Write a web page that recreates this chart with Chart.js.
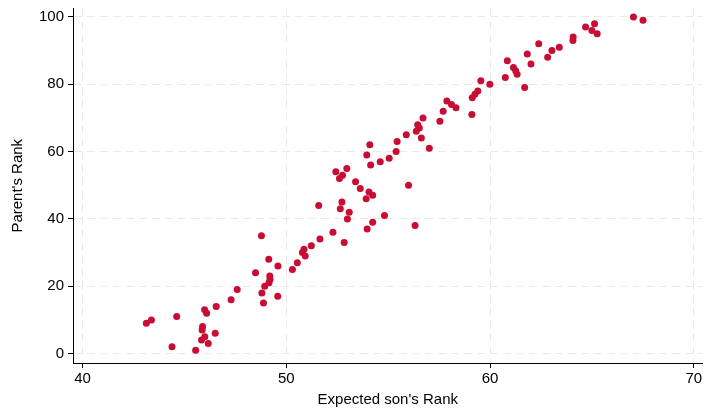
<!DOCTYPE html>
<html>
<head>
<meta charset="utf-8">
<script src="https://cdn.jsdelivr.net/npm/chart.js@4/dist/chart.umd.min.js"></script>
<style>
  html, body { margin: 0; padding: 0; background: #fff; }
  #wrap { width: 706px; height: 414px; }
</style>
</head>
<body>
<div id="wrap"><canvas id="chart" width="706" height="414"></canvas></div>
<script>
// ─── DATA ──────────────────────────────────────────────────
// parent's rank 1..100 and the expected son's rank
const parentRank = [
  1, 2, 3, 4, 5, 6, 7, 8, 9, 10,
  11, 12, 13, 14, 15, 16, 17, 18, 19, 20,
  21, 22, 23, 24, 25, 26, 27, 28, 29, 30,
  31, 32, 33, 34, 35, 36, 37, 38, 39, 40,
  41, 42, 43, 44, 45, 46, 47, 48, 49, 50,
  51, 52, 53, 54, 55, 56, 57, 58, 59, 60,
  61, 62, 63, 64, 65, 66, 67, 68, 69, 70,
  71, 72, 73, 74, 75, 76, 77, 78, 79, 80,
  81, 82, 83, 84, 85, 86, 87, 88, 89, 90,
  91, 92, 93, 94, 95, 96, 97, 98, 99, 100
];
const sonRank = [
  45.55, 44.39, 46.17, 45.84, 46.00, 46.51, 45.87, 45.89, 43.13, 43.38,
  44.62, 46.09, 45.99, 46.56, 48.88, 47.29, 49.58, 48.80, 47.59, 48.94,
  49.15, 49.20, 49.19, 48.49, 50.30, 49.59, 50.54, 49.14, 50.93, 50.79,
  50.87, 51.23, 52.84, 51.65, 48.78, 52.29, 53.97, 56.32, 54.24, 53.00,
  54.82, 53.09, 52.65, 51.59, 52.73, 53.92, 54.24, 54.06, 53.63, 56.00,
  53.40, 52.61, 52.76, 52.43, 52.97, 54.14, 54.61, 55.05, 53.95, 55.39,
  57.02, 54.10, 55.44, 56.63, 55.89, 56.38, 56.53, 56.45, 57.54, 56.71,
  59.11, 57.70, 58.33, 58.11, 57.88, 59.13, 59.26, 59.40, 61.70, 59.99,
  59.55, 60.75, 61.33, 61.26, 61.15, 62.01, 60.85, 62.83, 61.83, 63.04,
  63.40, 62.39, 64.07, 64.08, 65.26, 65.00, 64.69, 65.13, 67.51, 67.04
];

const xTicks = [40, 50, 60, 70];
const yTicks = [0, 20, 40, 60, 80, 100];

// ─── STYLE ─────────────────────────────────────────────────
const FONT = 'Liberation Sans, Arial, Helvetica, sans-serif';
const DOT = 'rgb(200, 12, 52)';
const GRID = '#e9e9e9';

const points = sonRank.map((x, i) => ({ x, y: parentRank[i] }));

function fixedTicks(list) {
  return scale => { scale.ticks = list.map(v => ({ value: v })); };
}

// ─── CHART ─────────────────────────────────────────────────
new Chart(document.getElementById('chart'), {
  type: 'scatter',
  data: {
    datasets: [{
      data: points,
      backgroundColor: DOT,
      borderWidth: 0,
      pointRadius: 3.5,
      pointHoverRadius: 3.5
    }]
  },
  options: {
    responsive: false,
    animation: false,
    layout: { padding: { top: 0, right: 2, bottom: 0, left: 0 } },
    plugins: {
      legend: { display: false },
      tooltip: { enabled: false }
    },
    scales: {
      x: {
        type: 'linear',
        min: 39.53,
        max: 70.43,
        afterBuildTicks: fixedTicks(xTicks),
        afterFit: s => { s.height = 51; },
        grid: {
          color: GRID,
          lineWidth: 1,
          tickColor: '#000',
          tickLength: 5,
          tickWidth: 1
        },
        border: { display: true, color: '#000', width: 1, dash: [8, 5] },
        ticks: {
          color: '#000',
          padding: 2,
          maxRotation: 0,
          font: { family: FONT, size: 15 }
        },
        title: {
          display: true,
          text: "Expected son's Rank",
          color: '#000',
          font: { family: FONT, size: 15 },
          padding: { top: 0, bottom: 5 }
        }
      },
      y: {
        type: 'linear',
        min: -2.81,
        max: 102.5,
        afterBuildTicks: fixedTicks(yTicks),
        afterFit: s => { s.width = 73; },
        grid: {
          color: GRID,
          lineWidth: 1,
          tickColor: '#000',
          tickLength: 5,
          tickWidth: 1
        },
        border: { display: true, color: '#000', width: 1, dash: [8, 5] },
        ticks: {
          color: '#000',
          padding: 4,
          font: { family: FONT, size: 15, lineHeight: 0.6 }
        },
        title: {
          display: true,
          text: "Parent's Rank",
          color: '#000',
          font: { family: FONT, size: 15 },
          padding: { top: 9, bottom: 0 }
        }
      }
    }
  }
});
</script>
</body>
</html>
